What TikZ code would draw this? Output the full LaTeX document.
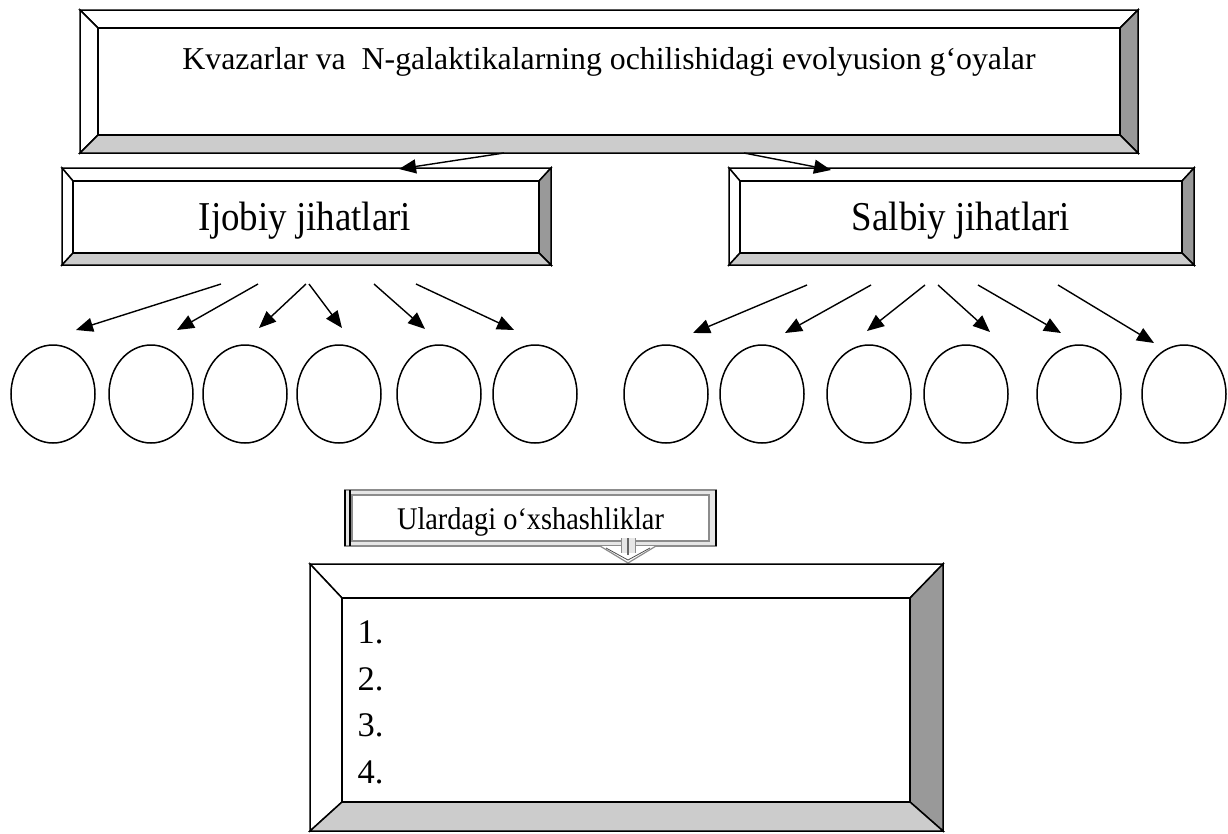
\documentclass[tikz,border=0pt]{standalone}
\usepackage{fontspec}
\setmainfont{Liberation Serif}
\newfontfamily\squeezed[FakeStretch=0.9]{Liberation Serif}
\usetikzlibrary{arrows.meta,calc,shapes.geometric}
\definecolor{bevdark}{HTML}{999999}
\definecolor{bevlight}{HTML}{CCCCCC}
\definecolor{framegray}{HTML}{8C8C8C}
\definecolor{framelight}{HTML}{E6E6E6}

\tikzset{
  bevedge/.style={draw=black, line width=1.5pt, line join=miter},
  innerbox/.style={draw=black, line width=1.5pt, fill=white, inner sep=0pt},
  arr/.style={line width=1.4pt, -{Triangle[length=17pt,width=14pt]}},
  blank/.style={ellipse, draw=black, line width=1.5pt, minimum width=84pt,
    minimum height=98pt, inner sep=0pt},
  headtext/.style={anchor=base, font=\squeezed\fontsize{41}{47}\selectfont},
  numtext/.style={anchor=base west, font=\fontsize{34.5}{40}\selectfont},
}

% bevelled box: #1 name, #2..#5 outer corners (x1,y1,x2,y2), #6..#9 bevel widths (left,top,right,bottom)
\newcommand\bevelbox[9]{%
  \fill[white,bevedge] (#2,#3) -- (#4,#3) -- (#4-#8,#3+#7) -- (#2+#6,#3+#7) -- cycle;
  \fill[white,bevedge] (#2,#3) -- (#2+#6,#3+#7) -- (#2+#6,#5-#9) -- (#2,#5) -- cycle;
  \fill[bevdark,bevedge] (#4,#3) -- (#4,#5) -- (#4-#8,#5-#9) -- (#4-#8,#3+#7) -- cycle;
  \fill[bevlight,bevedge] (#2,#5) -- (#4,#5) -- (#4-#8,#5-#9) -- (#2+#6,#5-#9) -- cycle;
  \node[innerbox, minimum width={(#4-#2-#6-#8)*1pt}, minimum height={(#5-#3-#7-#9)*1pt}]
    (#1) at ({(#2+#6+#4-#8)/2},{(#3+#7+#5-#9)/2}) {};
}

\begin{document}
\begin{tikzpicture}[x=1pt,y=-1pt]
\useasboundingbox (0,0) rectangle (1228,833);

% title box
\bevelbox{top}{80}{10}{1138}{153}{18}{18}{18}{18}
\node[anchor=base, font=\fontsize{31.8}{38}\selectfont] (toptext) at (609,69)
  {Kvazarlar va \ N-galaktikalarning ochilishidagi evolyusion g‘oyalar};

% two branches
\bevelbox{ijobiy}{62}{168}{551}{265}{11}{13}{12}{12}
\bevelbox{salbiy}{729}{168}{1194}{265}{11}{13}{12}{12}
\node[headtext] (ijtext) at (305,230) {Ijobiy jihatlari};
\node[headtext] (sbtext) at (961,230) {Salbiy jihatlari};

\coordinate (tl) at (504,153);
\coordinate (tr) at (744,153);
\coordinate (il) at (399,169);
\coordinate (sr) at (831,170);
\draw[arr] (tl) -- (il);
\draw[arr] (tr) -- (sr);

% blank circles
\foreach \i/\cx in {1/53,2/151,3/245,4/339,5/439,6/535}
  \node[blank] (L\i) at (\cx,394) {};
\foreach \i/\cx in {1/666,2/762,3/869,4/966,5/1079,6/1184}
  \node[blank] (R\i) at (\cx,394) {};

% arrows towards the circles
\foreach \i/\sx/\ex/\ey in {1/221/76/330,2/258/177/330,3/306/259/328,4/309/342/328,5/374/425/329,6/416/514/330}{
  \coordinate (la\i) at (\sx,284);
  \coordinate (lb\i) at (\ex,\ey);
  \draw[arr] (la\i) -- (lb\i);
}
\foreach \i/\sx/\ex/\ey in {1/807/693/333,2/871/785/333,3/925/867/331,4/938/990/332,5/978/1061/333,6/1058/1154/343}{
  \coordinate (ra\i) at (\sx,285);
  \coordinate (rb\i) at (\ex,\ey);
  \draw[arr] (ra\i) -- (rb\i);
}

% similarities box: framed panel
\fill[framelight] (345,490) rectangle (716,546);
\fill[white] (352,495) rectangle (709,541);
\draw[framegray, line width=1.2pt] (345,490) rectangle (716,546);
\draw[framegray, line width=1.2pt] (352,495) rectangle (709,541);
\draw[black, line width=1.3pt] (345,490) -- (345,546);
\draw[black, line width=1.3pt] (350,490) -- (350,546);
\draw[black, line width=1.1pt] (716,490) -- (716,546);
\node[inner sep=0pt, minimum width=357pt, minimum height=46pt] (sim) at (530.5,518) {};
\node[headtext, font=\squeezed\fontsize{31.5}{38}\selectfont] (simtext) at (530.5,529) {Ulardagi o‘xshashliklar};

% hollow arrow down to the answer box
\coordinate (arrtip) at (628,563);
\fill[white] (600,546) -- (656,546) -- (arrtip) -- cycle;
\draw[framegray, line width=1.2pt, line join=miter] (600,546) -- (arrtip) -- (656,546);
\draw[black!70, line width=0.8pt, line join=miter] (606,548) -- (628,560) -- (650,548);
\fill[framelight] (621,538) rectangle (635,553);
\draw[framegray, line width=1pt] (621,538) -- (621,553) (635,538) -- (635,553);
\draw[black!60, line width=1.4pt] (628,538) -- (628,555);

% answer box
\bevelbox{list}{310}{564}{943}{831}{32}{34}{33}{29}
\node[numtext] (n1) at (354,643) {1.};
\node[numtext] (n2) at (354,690) {2.};
\node[numtext] (n3) at (354,736) {3.};
\node[numtext] (n4) at (354,783) {4.};
\end{tikzpicture}
\end{document}
